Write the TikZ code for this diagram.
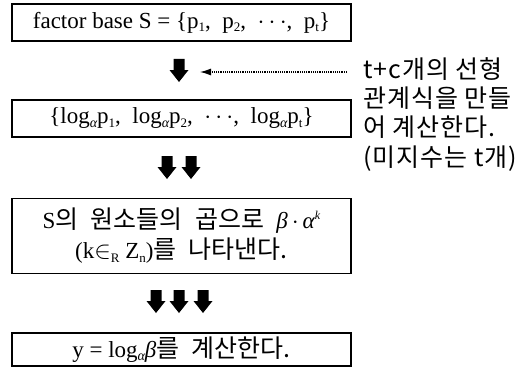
\documentclass[tikz,border=0pt]{standalone}
\usepackage{fontspec}
\setmainfont{Liberation Serif}
\newfontfamily\kr[WordSpace=2.2]{Noto Sans CJK KR}
\newfontfamily\krnote[LetterSpace=4]{Noto Sans CJK KR}
\usetikzlibrary{arrows.meta}
\newcommand\lsub[1]{\raisebox{-0.3ex}{\fontsize{13}{13}\selectfont #1}}
\newcommand\gsub[1]{\raisebox{-0.3ex}{\fontsize{14}{14}\selectfont\itshape #1}}
\newcommand\kk[1]{{\kr\fontsize{25}{30}\selectfont #1}}
\begin{document}
\begin{tikzpicture}[x=1pt,y=-1pt]
\tikzset{
  box/.style={draw, line width=1.2pt, minimum width=339pt, inner sep=0pt,
    font=\fontsize{23}{30}\selectfont, align=center},
  note/.style={anchor=base west, inner sep=0pt, font=\krnote\fontsize{25}{29}\selectfont},
  pics/blockarrow/.style={code={
    \fill (-5.5,0) -- (5.5,0) -- (5.5,11) -- (9.5,11) -- (0,23) -- (-9.5,11) -- (-5.5,11) -- cycle;}},
  dotarrow/.style={densely dotted, line width=1.2pt, -{Latex[length=11pt,width=7pt]}}
}
\useasboundingbox (0,0) rectangle (527,369);

\node[box, minimum height=37pt] (b1) at (181.5,22.5)
  {factor base S = \{p\lsub{1}, \ p\lsub{2}, \ $\cdots$, \ p\lsub{t}\}};
\node[box, minimum height=37pt] (b2) at (181.5,118.5)
  {\{log\gsub{α}p\lsub{1}, \ log\gsub{α}p\lsub{2}, \ $\cdots$, \ log\gsub{α}p\lsub{t}\}};
\node[box, minimum height=75pt] (b3) at (181.5,236)
  {S\kk{의 원소들의 곱으로 }\textit{β}\,$\cdot$\,\textit{α}\raisebox{0.9ex}{\fontsize{12}{12}\selectfont\itshape k}\\
   (k$\in$\lsub{R} Z\lsub{n})\kk{를 나타낸다.}};
\node[box, minimum height=33pt] (b4) at (181.5,349.5)
  {y = log\gsub{α}\textit{β}\kk{를 계산한다.}};

\pic at (179,59) {blockarrow};
\pic at (167,156) {blockarrow};
\pic at (191,156) {blockarrow};
\pic at (156,290) {blockarrow};
\pic at (179,290) {blockarrow};
\pic at (203,290) {blockarrow};

\node[note] (n1) at (363,78) {t+c개의 선형};
\node[note] (n2) at (363,107) {관계식을 만들};
\node[note] (n3) at (363,136) {어 계산한다.};
\node[note] (n4) at (363,166) {(미지수는 t개)};

\coordinate (dotend) at (347,72);
\coordinate (tip) at (200,72);
\draw[dotarrow] (dotend) -- (tip);
\end{tikzpicture}
\end{document}
